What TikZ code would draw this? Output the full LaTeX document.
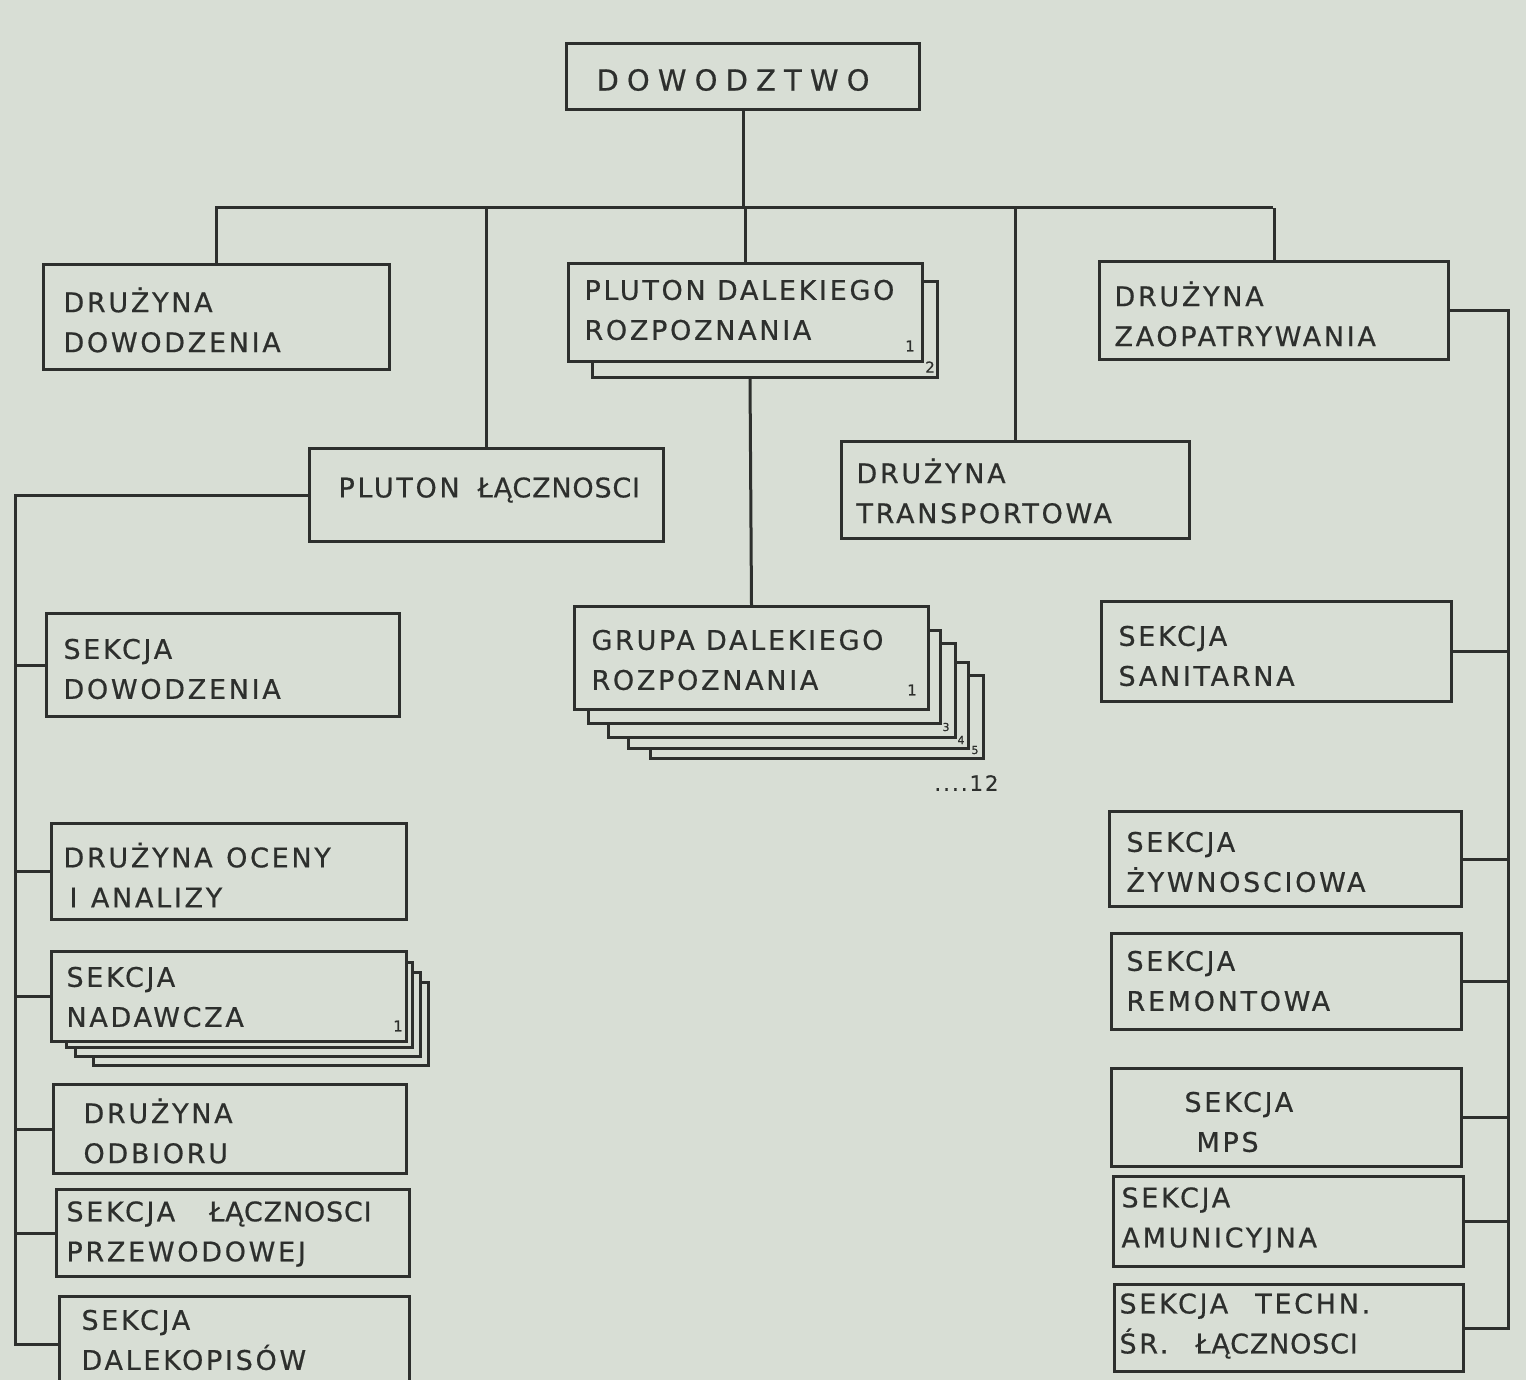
\documentclass[tikz,border=0pt]{standalone}
\usepackage{fontspec}
\setmainfont{DejaVu Sans}
\newfontfamily\hand[LetterSpace=10,FakeBold=0.6]{DejaVu Sans}
\newfontfamily\handwide[LetterSpace=28,FakeBold=0.6]{DejaVu Sans}
\definecolor{bg}{RGB}{216,222,213}
\definecolor{ink}{RGB}{45,47,45}
\newcommand\mybox[5]{\node[box, minimum width={(#4-#2)*1pt}, minimum height={(#5-#3)*1pt}] (#1) at (#2,#3) {};}
\newcommand\mylbl[4]{\node[lbl] (#1) at (#2,#3) {#4};}
\newcommand\nrw[1]{{\addfontfeatures{LetterSpace=3}#1}}
\begin{document}
\begin{tikzpicture}[x=1pt,y=-1pt, line width=3pt, draw=ink,
  box/.style={draw=ink, line width=3pt, rectangle, inner sep=0pt, anchor=north west},
  lbl/.style={font=\hand\fontsize{27}{40}\selectfont, align=left, anchor=west, inner sep=0pt, text=ink},
  small/.style={font=\hand\fontsize{15}{15}\selectfont, inner sep=0pt, text=ink},
  conn/.style={draw=ink, line width=3pt}]
\fill[bg] (0,0) rectangle (1526,1380);
\useasboundingbox (0,0) rectangle (1526,1380);
\clip (0,0) rectangle (1526,1380);

% boxes
\mybox{dow}{565}{42}{918}{108}
\mybox{dd}{42}{263}{388}{368}
\mybox{pd}{567}{262}{921}{360}
\mybox{zaop}{1098}{260}{1447}{358}
\mybox{pl}{308}{447}{662}{540}
\mybox{tr}{840}{440}{1188}{537}
\mybox{gr}{573}{605}{927}{708}
\mybox{san}{1100}{600}{1450}{700}
\mybox{sd}{45}{612}{398}{715}
\mybox{oc}{50}{822}{405}{918}
\mybox{nad}{50}{950}{405}{1040}
\mybox{odb}{52}{1083}{405}{1172}
\mybox{prz}{55}{1188}{408}{1275}
\mybox{dal}{58}{1295}{408}{1390}
\mybox{zyw}{1108}{810}{1460}{905}
\mybox{rem}{1110}{932}{1460}{1028}
\mybox{mps}{1110}{1067}{1460}{1165}
\mybox{amu}{1112}{1175}{1462}{1265}
\mybox{tech}{1113}{1283}{1462}{1370}

% stacked shadows
\draw[conn] (592,360) -- (592,377) -- (937,377) -- (937,282) -- (921,282);
\draw[conn] (588,708) -- (588,723) -- (940,723) -- (940,630) -- (927,630);
\draw[conn] (608,723) -- (608,737) -- (955,737) -- (955,643) -- (940,643);
\draw[conn] (628,737) -- (628,748) -- (968,748) -- (968,662) -- (955,662);
\draw[conn] (650,748) -- (650,758) -- (983,758) -- (983,675) -- (968,675);
\draw[conn] (66,1040) -- (66,1047) -- (412,1047) -- (412,962) -- (405,962);
\draw[conn] (75,1047) -- (75,1056) -- (420,1056) -- (420,972) -- (412,972);
\draw[conn] (93,1056) -- (93,1065) -- (428,1065) -- (428,982) -- (420,982);

% labels
\node[lbl, font=\handwide\fontsize{29}{29}\selectfont] (tdow) at (595,80) {DOWODZTWO};
\mylbl{tdd}{62}{320}{DRUŻYNA\\DOWODZENIA}
\mylbl{tpd}{583}{310}{PLUTON DALEKIEGO\\ROZPOZNANIA}
\mylbl{tzaop}{1113}{314}{DRUŻYNA\\ZAOPATRYWANIA}
\mylbl{tpl}{337}{490}{PLUTON\hspace{18pt}\nrw{ŁĄCZNOSCI}}
\mylbl{ttr}{855}{491}{DRUŻYNA\\TRANSPORTOWA}
\mylbl{tgr}{590}{660}{GRUPA DALEKIEGO\\ROZPOZNANIA}
\mylbl{tsan}{1117}{656}{SEKCJA\\SANITARNA}
\mylbl{tsd}{62}{669}{SEKCJA\\DOWODZENIA}
\mylbl{toc}{62}{875}{DRUŻYNA\enspace OCENY\\\hspace{6pt}I\enspace ANALIZY}
\mylbl{tnad}{65}{997}{SEKCJA\\NADAWCZA}
\mylbl{todb}{82}{1131}{DRUŻYNA\\ODBIORU}
\mylbl{tprz}{65}{1234}{SEKCJA\hspace{34pt}\nrw{ŁĄCZNOSCI}\\PRZEWODOWEJ}
\mylbl{tdal}{80}{1340}{SEKCJA\\DALEKOPISÓW}
\mylbl{tzyw}{1125}{862}{SEKCJA\\ŻYWNOSCIOWA}
\mylbl{trem}{1125}{981}{SEKCJA\\REMONTOWA}
\mylbl{tmps}{1183}{1122}{SEKCJA\\\hspace{12pt}MPS}
\mylbl{tamu}{1120}{1220}{SEKCJA\\AMUNICYJNA}
\mylbl{ttech}{1118}{1326}{SEKCJA\quad TECHN.\\ŚR.\quad \nrw{ŁĄCZNOSCI}}

% small numbers
\node[small] (n1a) at (910,346) {1};
\node[small] (n2a) at (930,367) {2};
\node[small] (n1b) at (912,690) {1};
\node[small, font=\hand\fontsize{11}{11}\selectfont] (n3b) at (946,727) {3};
\node[small, font=\hand\fontsize{11}{11}\selectfont] (n4b) at (961,740) {4};
\node[small, font=\hand\fontsize{11}{11}\selectfont] (n5b) at (975,750) {5};
\node[small] (n1c) at (398,1026) {1};
\node[lbl, font=\hand\fontsize{21}{21}\selectfont] (n12) at (933,783) {....12};

% top bus
\coordinate (busL) at (215,208);
\coordinate (busR) at (1273,208);
\draw[conn] (busL) -- (busR);
\draw[conn] (dow.south) -- (dow.south |- busL);
\draw[conn] (dd.north) -- (dd.north |- busL);
\draw[conn] (pl.north) -- (pl.north |- busL);
\draw[conn] (pd.north) -- (pd.north |- busL);
\draw[conn] (tr.north) -- (tr.north |- busL);
\draw[conn] (zaop.north) -- (zaop.north |- busL);

% pluton dalekiego -> grupa
\coordinate (pdbot) at (750,377);
\draw[conn] (pdbot) -- (gr.north);

% left tree
\coordinate (lb) at (15,0);
\draw[conn] (pl.west) -- (pl.west -| lb) -- (dal.west -| lb) -- (dal.west);
\foreach \b in {sd,oc,nad,odb,prz}
  \draw[conn] (\b.west) -- (\b.west -| lb);

% right tree
\coordinate (rb) at (1508,0);
\draw[conn] (zaop.east) -- (zaop.east -| rb) -- (tech.east -| rb) -- (tech.east);
\foreach \b in {san,zyw,rem,mps,amu}
  \draw[conn] (\b.east) -- (\b.east -| rb);
\end{tikzpicture}
\end{document}
